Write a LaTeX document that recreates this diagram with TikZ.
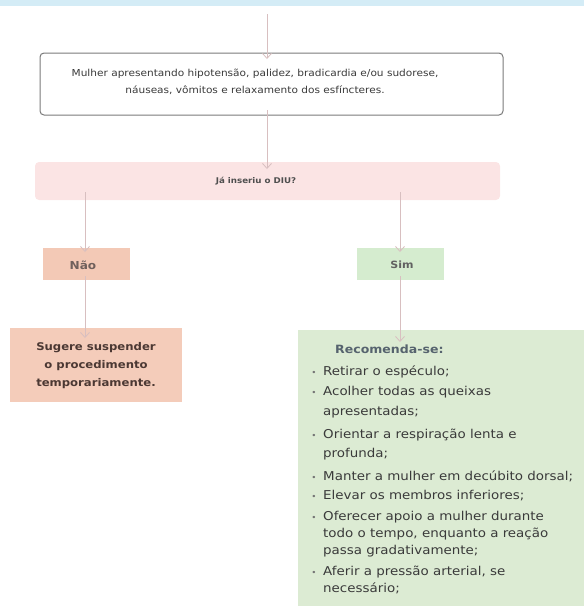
\documentclass[tikz,border=0pt]{standalone}
\usepackage{fontspec}
\setmainfont[FakeStretch=1.1]{DejaVu Sans}
\usetikzlibrary{arrows.meta}
\definecolor{topstrip}{HTML}{D4ECF6}
\definecolor{arrowc}{HTML}{D8BFC0}
\definecolor{boxline}{HTML}{7A7A7A}
\definecolor{pinkbox}{HTML}{FBE4E4}
\definecolor{salmon}{HTML}{F3C9B6}
\definecolor{greenbox}{HTML}{DCEBD3}
\definecolor{simgreen}{HTML}{D5ECCF}
\definecolor{txtdark}{HTML}{3A3A3A}
\definecolor{txtbrown}{HTML}{4B3833}
\definecolor{txtblue}{HTML}{56636E}
\tikzset{
  flow/.style={draw=arrowc, line width=0.8pt, -{Straight Barb[length=5pt,width=9pt]}},
  rbox/.style={rounded corners=4pt},
  toptxt/.style={anchor=base, inner sep=0pt, text=txtdark, font=\fontsize{9.6}{11}\selectfont},
  sugtxt/.style={anchor=base, inner sep=0pt, text=txtbrown, font=\bfseries\fontsize{10.6}{12}\selectfont},
  itemtxt/.style={anchor=base west, inner sep=0pt, text=txtdark, font=\fontsize{12.2}{14}\selectfont},
  bul/.style={anchor=base, inner sep=0pt, text=txtdark!70, font=\fontsize{8}{10}\selectfont},
}
\begin{document}
\begin{tikzpicture}[x=1pt,y=-1pt]
\useasboundingbox (0,0) rectangle (584,606);
\fill[topstrip] (0,0) rectangle (584,6);
% boxes
\draw[rbox, draw=boxline, line width=1pt, fill=white] (40,53) rectangle (503,115);
\node[toptxt] (top1) at (255,76) {Mulher apresentando hipotensão, palidez, bradicardia e/ou sudorese,};
\node[toptxt] (top2) at (255,93) {náuseas, vômitos e relaxamento dos esfíncteres.};
\coordinate (topN) at (267,53);
\coordinate (topS) at (267,115);
\coordinate (start) at (267,14);

\fill[rbox, pinkbox] (35,162) rectangle (500,200);
\node[text=txtdark!90, font=\bfseries\fontsize{7.9}{10}\selectfont] (diu) at (256,181) {Já inseriu o DIU?};
\coordinate (diuN) at (267,162);
\coordinate (diuSL) at (85,200);
\coordinate (diuSR) at (400,200);

\fill[salmon] (43,248) rectangle (130,280);
\node[text=txtbrown!80, font=\bfseries\fontsize{11}{12}\selectfont] (nao) at (83,265) {Não};
\fill[simgreen] (357,248) rectangle (444,280);
\node[text=txtdark!80, font=\bfseries\fontsize{10}{12}\selectfont] (sim) at (402,265) {Sim};
\coordinate (naoN) at (85,248);
\coordinate (naoS) at (85,280);
\coordinate (simN) at (400,248);
\coordinate (simS) at (400,280);

\fill[salmon!95!white] (10,328) rectangle (182,402);
\node[sugtxt] (sug1) at (96,350) {Sugere suspender};
\node[sugtxt] (sug2) at (96,368) {o procedimento};
\node[sugtxt] (sug3) at (96,386) {temporariamente.};
\coordinate (sugN) at (85,328);

\fill[greenbox] (298,330) rectangle (590,610);
\coordinate (recN) at (400,330);
\node[anchor=base west, inner sep=0pt, text=txtblue, font=\bfseries\fontsize{11.4}{12}\selectfont] (rec) at (335,353) {Recomenda-se:};

\node[bul] (b1) at (314,375) {•};
\node[itemtxt] (i1) at (323,375) {Retirar o espéculo;};
\node[bul] (b2) at (314,395) {•};
\node[itemtxt] (i2a) at (323,395) {Acolher todas as queixas};
\node[itemtxt] (i2b) at (323,415) {apresentadas;};
\node[bul] (b3) at (314,438) {•};
\node[itemtxt] (i3a) at (323,438) {Orientar a respiração lenta e};
\node[itemtxt] (i3b) at (323,457) {profunda;};
\node[bul] (b4) at (314,480) {•};
\node[itemtxt] (i4) at (323,480) {Manter a mulher em decúbito dorsal;};
\node[bul] (b5) at (314,499) {•};
\node[itemtxt] (i5) at (323,499) {Elevar os membros inferiores;};
\node[bul] (b6) at (314,520) {•};
\node[itemtxt] (i6a) at (323,520) {Oferecer apoio a mulher durante};
\node[itemtxt] (i6b) at (323,537) {todo o tempo, enquanto a reação};
\node[itemtxt] (i6c) at (323,554) {passa gradativamente;};
\node[bul] (b7) at (314,575) {•};
\node[itemtxt] (i7a) at (323,575) {Aferir a pressão arterial, se};
\node[itemtxt] (i7b) at (323,592) {necessário;};

% connectors
\draw[flow] (start) -- ([yshift=-6pt]topN);
\draw[flow] ([yshift=5pt]topS) -- ([yshift=-7pt]diuN);
\draw[flow] ([yshift=8pt]diuSL) -- ([yshift=-4pt]naoN);
\draw[flow] ([yshift=8pt]diuSR) -- ([yshift=-4pt]simN);
\draw[flow] ([yshift=4pt]naoS) -- ([yshift=-10pt]sugN);
\draw[flow] ([yshift=4pt]simS) -- ([yshift=-12pt]recN);
\end{tikzpicture}
\end{document}
